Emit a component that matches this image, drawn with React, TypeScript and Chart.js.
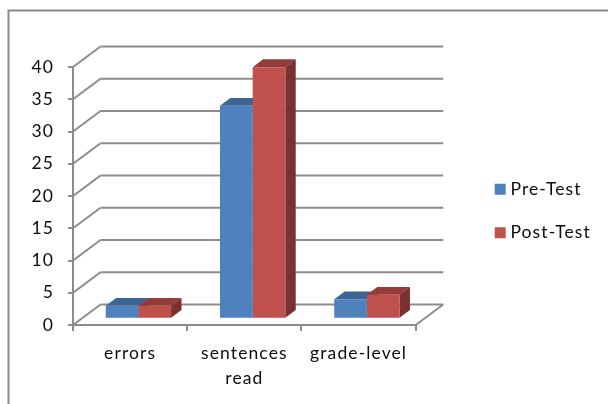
import React, { useEffect, useRef } from "react";
import { Chart, registerables } from "chart.js";

Chart.register(...registerables);

const categories = ["errors", ["sentences", "read"], "grade-level"];
const preTest = [2, 33, 3];
const postTest = [2, 39, 3.7];
const seriesNames = ["Pre-Test", "Post-Test"];
const frontColors = ["#4f81bd", "#c0504d"];
const topColors = ["#3b6595", "#943c3a"];
const sideColors = ["#2f527c", "#7b312f"];

const GRID = "#8c8c8c";
const TEXT = "#0d0d0d";
const FONT = "Lato";
const WALL = { dx: 27.5, dy: -20.5 };
const BAR_SHIFT = { dx: 8.3, dy: -6.3 };
const BAR_DEPTH = { dx: 10.4, dy: -7.8 };

const line = (ctx: CanvasRenderingContext2D, x1: number, y1: number, x2: number, y2: number) => {
  ctx.beginPath();
  ctx.moveTo(x1, y1);
  ctx.lineTo(x2, y2);
  ctx.stroke();
};

const poly = (ctx: CanvasRenderingContext2D, pts: number[][], fill: string) => {
  ctx.fillStyle = fill;
  ctx.beginPath();
  pts.forEach(([x, y], i) => (i ? ctx.lineTo(x, y) : ctx.moveTo(x, y)));
  ctx.closePath();
  ctx.fill();
};

const scene3d = {
  id: "scene3d",
  beforeDraw(chart: any) {
    const { ctx, legend } = chart;
    ctx.letterSpacing = "1.1px";
    legend.left = 472.7;
    legend.right = 608;
    legend.top = 0;
    legend.bottom = 422;
    ctx.save();
    ctx.fillStyle = "#ffffff";
    ctx.fillRect(0, 0, 608, 404);
    ctx.strokeStyle = "#8a8a8a";
    ctx.lineWidth = 2;
    ctx.beginPath();
    ctx.moveTo(8.5, 406);
    ctx.lineTo(8.5, 10.5);
    ctx.lineTo(610, 10.5);
    ctx.stroke();
    ctx.restore();
  },
  beforeDatasetsDraw(chart: any) {
    const { ctx, chartArea: a, scales } = chart;
    ctx.save();
    ctx.strokeStyle = GRID;
    ctx.lineWidth = 2;
    scales.y.ticks.forEach((t: any) => {
      const y = scales.y.getPixelForValue(t.value);
      line(ctx, a.left, y, a.left + WALL.dx, y + WALL.dy);
      line(ctx, a.left + WALL.dx, y + WALL.dy, a.right + WALL.dx, y + WALL.dy);
    });
    line(ctx, a.right, a.bottom, a.right + WALL.dx, a.bottom + WALL.dy);

    ctx.translate(BAR_SHIFT.dx, BAR_SHIFT.dy);
    [0, 1].forEach((d) => {
      chart.getDatasetMeta(d).data.forEach((b: any) => {
        const l = b.x - b.width / 2;
        const r = b.x + b.width / 2;
        const { dx, dy } = BAR_DEPTH;
        poly(ctx, [[l, b.y], [l + dx, b.y + dy], [r + dx, b.y + dy], [r, b.y]], topColors[d]);
        poly(ctx, [[r, b.y], [r + dx, b.y + dy], [r + dx, b.base + dy], [r, b.base]], sideColors[d]);
      });
    });
  },
  afterDatasetsDraw(chart: any) {
    chart.ctx.restore();
  },
};

export default function App() {
  const ref = useRef<HTMLCanvasElement>(null);
  useEffect(() => {
    const chart = new Chart(ref.current!, {
      type: "bar",
      data: {
        labels: categories as any,
        datasets: [
          { label: seriesNames[0], data: preTest, backgroundColor: frontColors[0] },
          { label: seriesNames[1], data: postTest, backgroundColor: frontColors[1] },
        ],
      },
      plugins: [scene3d as any],
      options: {
        animation: false,
        responsive: false,
        devicePixelRatio: 1,
        layout: { padding: { top: 67, right: 74, left: 0, bottom: 0 } },
        datasets: { bar: { barPercentage: 1, categoryPercentage: 0.572 } },
        plugins: {
          tooltip: { enabled: false },
          legend: {
            position: "right",
            labels: {
              boxWidth: 3,
              boxHeight: 3,
              padding: 26,
              color: TEXT,
              font: { family: FONT, size: 17.5 },
              generateLabels: (c: any) =>
                Chart.defaults.plugins.legend.labels.generateLabels(c).map((item: any, i: number) => ({
                  ...item,
                  fillStyle: frontColors[i],
                  strokeStyle: frontColors[i],
                  lineWidth: 8,
                })),
            },
          },
        },
        scales: {
          x: {
            grid: { drawOnChartArea: false, color: GRID, lineWidth: 2, tickLength: 6, offset: true },
            border: { color: GRID, width: 2 },
            ticks: { color: TEXT, font: { family: FONT, size: 17.5, lineHeight: 1.41 }, padding: 10, maxRotation: 0, autoSkip: false },
            afterFit: (s: any) => { s.height = 79; },
          },
          y: {
            min: 0,
            max: 40,
            grid: { drawOnChartArea: false, color: GRID, lineWidth: 2, tickLength: 5 },
            border: { color: GRID, width: 2 },
            ticks: { stepSize: 5, color: TEXT, font: { family: FONT, size: 17.5 }, padding: 14 },
            afterFit: (s: any) => { s.width = 73; },
          },
        },
      },
    });
    return () => chart.destroy();
  }, []);
  return (
    <canvas
      ref={ref}
      width={608}
      height={404}
      style={{ position: "fixed", left: 0, top: 0, width: 608, height: 404, filter: "blur(0.4px)" }}
    />
  );
}
